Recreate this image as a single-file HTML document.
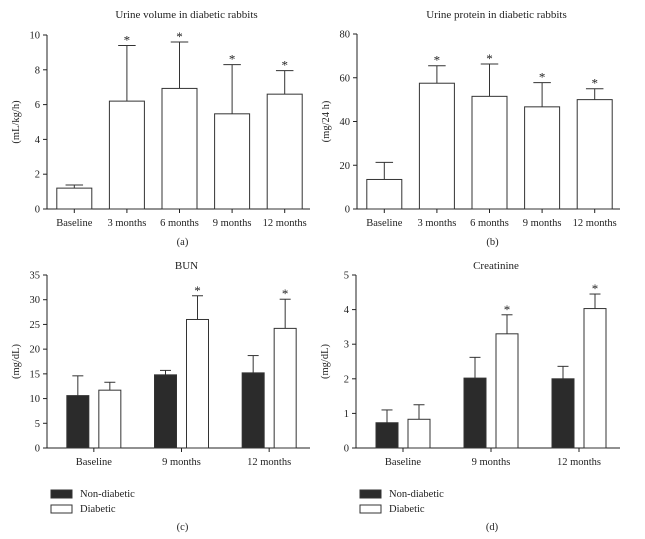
<!DOCTYPE html>
<html><head><meta charset="utf-8"><style>
html,body{margin:0;padding:0;background:#fff;}
svg{display:block;font-family:"Liberation Serif",serif;}
</style></head><body>
<svg id="s" width="645" height="539" viewBox="0 0 645 539"></svg>
<script>
const catsA = ["Baseline","3 months","6 months","9 months","12 months"];
const valsA = [1.2,6.2,6.93,5.47,6.6];
const errA = [1.38,9.4,9.6,8.3,7.95];
const starA = [false,true,true,true,true];
const ticksA = [0,2,4,6,8,10];
const catsB = catsA;
const valsB = [13.5,57.5,51.5,46.7,50];
const errB = [21.3,65.5,66.3,57.8,55];
const ticksB = [0,20,40,60,80];
const catsC = ["Baseline","9 months","12 months"];
const ndC = [10.6,14.8,15.2];
const ndErrC = [14.6,15.7,18.7];
const dC = [11.7,26,24.2];
const dErrC = [13.3,30.8,30.1];
const starC = [false,true,true];
const ticksC = [0,5,10,15,20,25,30,35];
const ndD = [0.73,2.02,2.0];
const ndErrD = [1.1,2.62,2.36];
const dD = [0.83,3.3,4.03];
const dErrD = [1.25,3.85,4.45];
const ticksD = [0,1,2,3,4,5];

const NS="http://www.w3.org/2000/svg";
const svg=document.getElementById('s');
function el(tag,attrs,parent,text){const e=document.createElementNS(NS,tag);for(const k in attrs)e.setAttribute(k,attrs[k]);if(text!==undefined)e.textContent=text;(parent||svg).appendChild(e);return e;}

function axes(g,x0,x1,y0,y1,ticks,ylab,title,titleY,tag,tagY,labelX){
  const max=ticks[ticks.length-1];
  const ys=v=>y0-(v/max)*(y0-y1);
  el('line',{x1:x0,y1:y0,x2:x0,y2:y1,stroke:'#222','stroke-width':1},g);
  el('line',{x1:x0,y1:y0,x2:x1,y2:y0,stroke:'#222','stroke-width':1},g);
  ticks.forEach(t=>{
    el('line',{x1:x0-4,y1:ys(t),x2:x0,y2:ys(t),stroke:'#222'},g);
    const tx=el('text',{x:x0-7,y:ys(t)+3.5,'font-size':10.5,'text-anchor':'end',fill:'#222'},g,t);
    
    
  });
  const yl=el('text',{x:0,y:0,'font-size':10.5,'text-anchor':'middle',fill:'#222',transform:`translate(${labelX},${(y0+y1)/2}) rotate(-90)`},g,ylab);
  
  
  const tt=el('text',{x:(x0+x1)/2+8,y:titleY,'font-size':11,'text-anchor':'middle',fill:'#222'},g,title);
  
  
  const tg=el('text',{x:(x0+x1)/2+4,y:tagY,'font-size':10.5,'text-anchor':'middle',fill:'#222'},g,tag);
  
  
  return ys;
}
function bar(g,x,w,v,e,ys,fill,star,name){
  const y0=ys(0),y=ys(v),ye=ys(e),cx=x+w/2;
  el('line',{x1:cx,y1:y,x2:cx,y2:ye,stroke:'#333'},g);
  el('line',{x1:cx-w/4,y1:ye,x2:cx+w/4,y2:ye,stroke:'#333'},g);
  const r=el('rect',{x:x,y:y,width:w,height:y0-y,fill:fill,stroke:'#333','stroke-width':1},g);
  
  
  if(star){const s=el('text',{x:cx,y:ye-1,'font-size':13,'text-anchor':'middle',fill:'#222'},g,'*');
    
    }
}
function xlab(g,cx,y0,txt){
  el('line',{x1:cx,y1:y0,x2:cx,y2:y0+4,stroke:'#222'},g);
  const t=el('text',{x:cx,y:y0+17,'font-size':10.5,'text-anchor':'middle',fill:'#222'},g,txt);
  
  
}
function single(name,x0,x1,y0,y1,cats,vals,errs,ticks,ylab,title,tag,starArr){
  const g=el('g',{});
  
  
  const ys=axes(g,x0,x1,y0,y1,ticks,ylab,title,18,tag,245,x0-28);
  const step=(x1-x0)/cats.length, w=35;
  cats.forEach((c,i)=>{
    const cx=x0+step*(i+0.5)+1;
    bar(g,cx-w/2,w,vals[i],errs[i],ys,'#fff',starArr[i],'bar-'+i);
    xlab(g,cx,y0,c);
  });
}
function grouped(name,x0,x1,y0,y1,cats,nd,ndE,d,dE,ticks,ylab,title,tag,starArr){
  const g=el('g',{});
  
  
  const ys=axes(g,x0,x1,y0,y1,ticks,ylab,title,269,tag,530,x0-28);
  const step=(x1-x0)/cats.length, w=22;
  cats.forEach((c,i)=>{
    const cx=x0+step*(i+0.5)+3;
    bar(g,cx-w-5,w,nd[i],ndE[i],ys,'#2b2b2b',false,'bar-nondiabetic-'+i);
    bar(g,cx+5,w,d[i],dE[i],ys,'#fff',starArr[i],'bar-diabetic-'+i);
    xlab(g,cx,y0,c);
  });
  const lg=el('g',{},g);
  
  
  const lx=x0+4;
  el('rect',{x:lx,y:490,width:21,height:8,fill:'#2b2b2b',stroke:'#333'},lg);
  const t1=el('text',{x:lx+29,y:497,'font-size':10.5,fill:'#222'},lg,'Non-diabetic');
  
  
  el('rect',{x:lx,y:505,width:21,height:8,fill:'#fff',stroke:'#333'},lg);
  const t2=el('text',{x:lx+29,y:512,'font-size':10.5,fill:'#222'},lg,'Diabetic');
  
  
}
single('chart-urine-volume',47,310,209,35,catsA,valsA,errA,ticksA,'(mL/kg/h)','Urine volume in diabetic rabbits','(a)',starA);
single('chart-urine-protein',357,620,209,34,catsB,valsB,errB,ticksB,'(mg/24 h)','Urine protein in diabetic rabbits','(b)',starA);
grouped('chart-bun',47,310,448,275,catsC,ndC,ndErrC,dC,dErrC,ticksC,'(mg/dL)','BUN','(c)',starC);
grouped('chart-creatinine',356,620,448,275,catsC,ndD,ndErrD,dD,dErrD,ticksD,'(mg/dL)','Creatinine','(d)',starC);
</script>
</body></html>
